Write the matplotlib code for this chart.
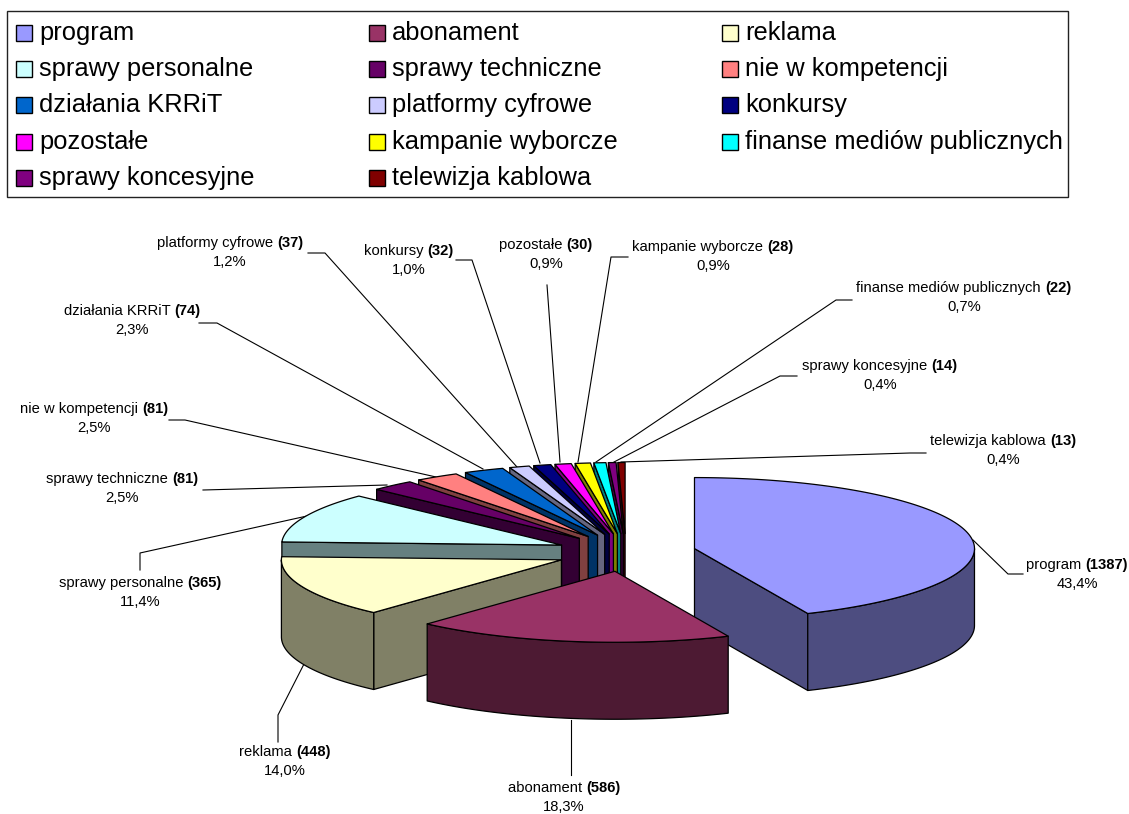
import numpy as np
import matplotlib
matplotlib.use("Agg")
import matplotlib.pyplot as plt
from matplotlib.patches import Rectangle, Polygon

categories = ["program", "abonament", "reklama", "sprawy personalne", "sprawy techniczne",
              "nie w kompetencji", "działania KRRiT", "platformy cyfrowe", "konkursy",
              "pozostałe", "kampanie wyborcze", "finanse mediów publicznych",
              "sprawy koncesyjne", "telewizja kablowa"]
values = [1387, 586, 448, 365, 81, 81, 74, 37, 32, 30, 28, 22, 14, 13]
colors = ["#9999FF", "#993366", "#FFFFCC", "#CCFFFF", "#660066", "#FF8080", "#0066CC",
          "#CCCCFF", "#000080", "#FF00FF", "#FFFF00", "#00FFFF", "#800080", "#800000"]

# layout (pixels)
CX, CY, RX, RY, DEPTH = 626.0, 552.5, 280.0, 71.0, 77.0
EXPLODE_X, EXPLODE_Y = 70.0, 19.0
label_centers = [(1077, 565), (564, 788), (285, 752), (140, 583), (122, 479), (94, 409),
                 (132, 311), (230, 243), (409, 251), (546, 245), (713, 247), (964, 288),
                 (880, 366), (1003, 441)]
leaders = [
    [(1023, 574), (1008, 574), (973, 540)],
    [(571, 775), (571, 720)],
    [(278, 742), (278, 715), (304, 664)],
    [(140, 570), (140, 553), (307, 516)],
    [(203, 490), (387, 485)],
    [(169, 420), (185, 420), (436, 477)],
    [(199, 323), (217, 323), (483, 469)],
    [(308, 253), (325, 253), (517, 467)],
    [(456, 260), (472, 260), (540, 463)],
    [(547, 285), (560, 462)],
    [(628, 257), (611, 257), (578, 462)],
    [(852, 300), (836, 300), (596, 462)],
    [(797, 376), (780, 376), (614, 462)],
    [(926, 453), (910, 453), (621, 462)],
]
LEG_COL_X = [16, 369, 722]
LEG_ROW_Y = [33, 69, 105, 142, 178]
LEG_FS = 18.4
LBL_FS = 10.6

fig = plt.figure(figsize=(11.29, 8.14), dpi=100)
ax = fig.add_axes([0, 0, 1, 1])
ax.set_xlim(0, 1129)
ax.set_ylim(814, 0)
ax.axis("off")
plt.rcParams["font.family"] = ["Liberation Sans", "DejaVu Sans"]


def dark(c):
    r, g, b = matplotlib.colors.to_rgb(c)
    return (r * .5, g * .5, b * .5)


total = sum(values)
fr = np.array(values) / total
edges = np.concatenate([[0], np.cumsum(fr) * 360])
slices = []
for i in range(len(values)):
    a0, a1 = edges[i], edges[i + 1]
    m = np.radians((a0 + a1) / 2)
    ox = CX + EXPLODE_X * np.sin(m)
    oy = CY - EXPLODE_Y * np.cos(m)
    slices.append((oy, i, a0, a1, ox))


def rim(ox, oy, th):
    t = np.radians(th)
    return ox + RX * np.sin(t), oy - RY * np.cos(t)


EDGE = dict(edgecolor="black", linewidth=0.9, joinstyle="round")
for oy, i, a0, a1, ox in sorted(slices, key=lambda s: s[0]):
    c = colors[i]
    d = dark(c)
    z = 10 + oy / 1000
    # radial side wall facing the viewer
    th = a0 if np.sin(np.radians(a0)) < -1e-6 else (a1 if np.sin(np.radians(a1)) > 1e-6 else None)
    if th is not None:
        x, y = rim(ox, oy, th)
        ax.add_patch(Polygon([(ox, oy), (x, y), (x, y + DEPTH), (ox, oy + DEPTH)],
                             facecolor=d, zorder=z, **EDGE))
    # outer curved wall (front half)
    lo, hi = max(a0, 90), min(a1, 270)
    if hi > lo:
        t = np.linspace(lo, hi, 80)
        x, y = rim(ox, oy, t)
        pts = list(zip(x, y)) + list(zip(x[::-1], y[::-1] + DEPTH))
        ax.add_patch(Polygon(pts, facecolor=d, zorder=z, **EDGE))
    # top face
    t = np.linspace(a0, a1, max(int(a1 - a0) * 2, 6))
    x, y = rim(ox, oy, t)
    pts = [(ox, oy)] + list(zip(x, y))
    ax.add_patch(Polygon(pts, facecolor=c, zorder=z, **EDGE))

# leader lines
for pts in leaders:
    xs, ys = zip(*pts)
    ax.plot(xs, ys, color="black", lw=0.8, zorder=5)

# data labels
renderer = fig.canvas.get_renderer()
for i, (name, v) in enumerate(zip(categories, values)):
    cx, cy = label_centers[i]
    a = ax.text(0, cy + 4, name + " ", fontsize=LBL_FS, ha="left", va="baseline", zorder=30)
    b = ax.text(0, cy + 4, f"({v})", fontsize=LBL_FS, fontweight="bold", ha="left", va="baseline", zorder=30)
    wa = a.get_window_extent(renderer).width
    wb = b.get_window_extent(renderer).width
    left = cx - (wa + wb) / 2
    a.set_x(left)
    b.set_x(left + wa)
    ax.text(cx, cy + 23, f"{100 * v / total:.1f}%".replace(".", ","), fontsize=LBL_FS,
            ha="center", va="baseline", zorder=30)

# legend
ax.add_patch(Rectangle((7, 11), 1061, 186, facecolor="white", edgecolor="#222222", linewidth=1, zorder=20))
for i, (name, c) in enumerate(zip(categories, colors)):
    col, row = i % 3, i // 3
    x, y = LEG_COL_X[col], LEG_ROW_Y[row]
    ax.add_patch(Rectangle((x, y - 8), 16, 16, facecolor=c, edgecolor="black", linewidth=1, zorder=21))
    ax.text(x + 23, y + 7, name, fontsize=LEG_FS, ha="left", va="baseline", zorder=21)

fig.savefig("out.png", dpi=100, facecolor="white")
